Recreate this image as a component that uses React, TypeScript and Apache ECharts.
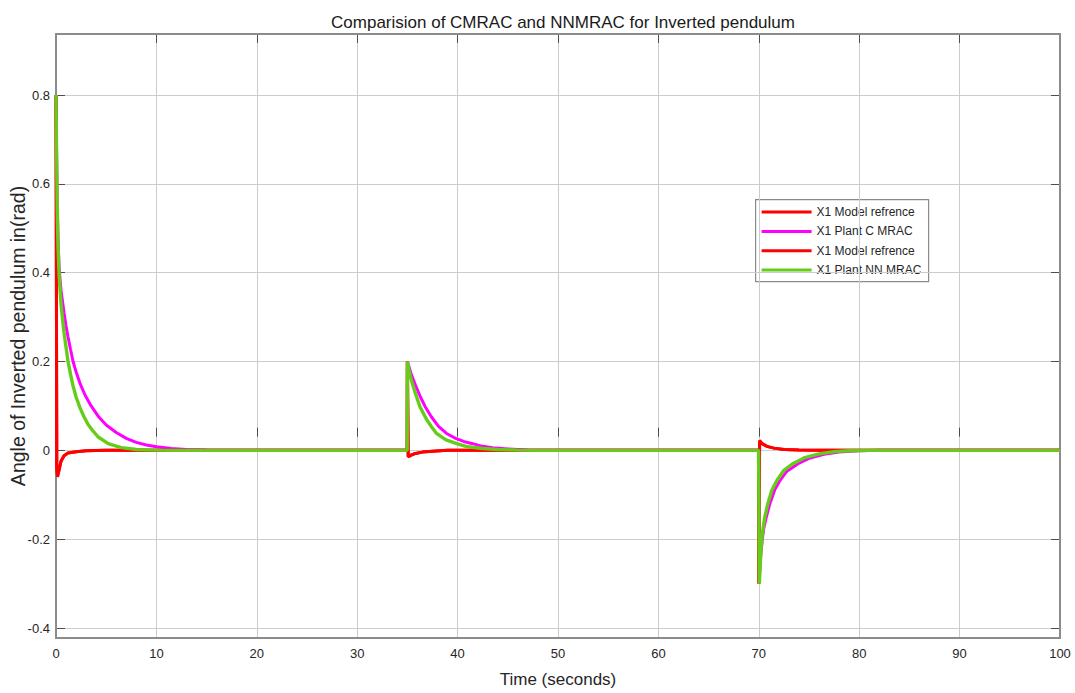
import React, { useEffect, useRef } from "react";
import * as echarts from "echarts";

// ---- Data (time in seconds, angle in rad) ----
const modelRefC: [number, number][] = [
  [0, 0.8], [0.08, -0.04], [0.15, -0.06], [0.3, -0.045], [0.5, -0.025], [0.8, -0.012],
  [1.2, -0.006], [2, -0.003], [3, -0.001], [5, 0], [34.98, 0], [35, 0.2], [35.08, -0.015],
  [35.3, -0.012], [35.8, -0.007], [36.5, -0.004], [37.5, -0.002], [39, 0], [69.98, 0],
  [70, -0.3], [70.08, 0.022], [70.3, 0.016], [70.8, 0.009], [71.5, 0.005], [72.5, 0.002],
  [74, 0.001], [76, 0], [100, 0],
];

const plantCMRAC: [number, number][] = [
  [0, 0.8], [0.05, 0.68], [0.12, 0.56], [0.2, 0.48], [0.3, 0.415], [0.4, 0.385], [0.5, 0.36],
  [0.65, 0.335], [0.8, 0.31], [1.0, 0.28], [1.2, 0.255], [1.45, 0.227], [1.7, 0.2], [2.0, 0.177],
  [2.4, 0.15], [2.9, 0.124], [3.5, 0.1], [4.2, 0.077], [5, 0.057], [6, 0.04], [7, 0.027],
  [8, 0.018], [9, 0.012], [10, 0.008], [11.5, 0.004], [13, 0.002], [15, 0.0008], [18, 0],
  [34.98, 0], [35, 0.2], [35.2, 0.185], [35.4, 0.17], [35.8, 0.147], [36.3, 0.12], [36.8, 0.097],
  [37.4, 0.075], [38.1, 0.054], [38.9, 0.038], [39.8, 0.027], [40.6, 0.02], [41.5, 0.015],
  [42.5, 0.009], [43.5, 0.006], [45, 0.003], [47, 0.001], [50, 0], [69.98, 0], [70.05, -0.285],
  [70.2, -0.235], [70.35, -0.2], [70.5, -0.175], [70.7, -0.155], [71.1, -0.12], [71.6, -0.088],
  [72.1, -0.068], [72.8, -0.047], [73.9, -0.03], [75, -0.018], [76.5, -0.009], [78, -0.004],
  [80, -0.001], [82, 0], [100, 0],
];

const modelRefNN: [number, number][] = [
  [0, 0.8], [0.08, -0.04], [0.15, -0.058], [0.3, -0.044], [0.5, -0.024], [0.8, -0.012],
  [1.2, -0.006], [2, -0.003], [3, -0.001], [5, 0], [34.98, 0], [35, 0.2], [35.08, -0.014],
  [35.3, -0.011], [35.8, -0.007], [36.5, -0.004], [37.5, -0.002], [39, 0], [69.98, 0],
  [70, -0.3], [70.08, 0.021], [70.3, 0.015], [70.8, 0.009], [71.5, 0.005], [72.5, 0.002],
  [74, 0.001], [76, 0], [100, 0],
];

const plantNNMRAC: [number, number][] = [
  [0, 0.8], [0.05, 0.68], [0.12, 0.55], [0.2, 0.46], [0.3, 0.4], [0.4, 0.362], [0.5, 0.33],
  [0.65, 0.295], [0.8, 0.265], [1.0, 0.232], [1.2, 0.2], [1.45, 0.171], [1.7, 0.145],
  [2.0, 0.12], [2.4, 0.095], [2.8, 0.075], [3.2, 0.058], [3.7, 0.043], [4.2, 0.03],
  [5.2, 0.015], [6.5, 0.006], [8, 0.002], [10, 0.0005], [12, 0], [34.98, 0], [35, 0.2],
  [35.15, 0.182], [35.3, 0.165], [35.7, 0.135], [36.25, 0.098], [36.9, 0.07], [37.4, 0.053],
  [37.9, 0.038], [38.8, 0.024], [39.9, 0.015], [41, 0.008], [42.5, 0.004], [44, 0.002],
  [46, 0.0005], [48, 0], [69.98, 0], [70.05, -0.3], [70.18, -0.24], [70.3, -0.2], [70.45, -0.172],
  [70.6, -0.15], [70.9, -0.12], [71.3, -0.09], [71.8, -0.068], [72.5, -0.045], [73.4, -0.03],
  [74.5, -0.017], [76, -0.008], [77.5, -0.003], [79, -0.001], [81, 0], [100, 0],
];

const seriesNames = ["X1 Model refrence", "X1 Plant C MRAC", "X1 Model refrence", "X1 Plant NN MRAC"];
const seriesColors = ["#ff0000", "#ff00ff", "#ff0000", "#66cc1a"];
const seriesWidths = [3, 3, 3, 3.4];
const seriesData = [modelRefC, plantCMRAC, modelRefNN, plantNNMRAC];

const xTicks = { min: 0, max: 100, interval: 10 };
const yTicks = { min: -0.4, max: 0.8, interval: 0.2 };

const FONT = "'Liberation Sans', Arial, sans-serif";
const TXT = "#262626";

export default function App() {
  const ref = useRef<HTMLDivElement>(null);

  useEffect(() => {
    if (!ref.current) return;
    const chart = echarts.init(ref.current, undefined, { renderer: "svg" });

    const legendX = 755;
    const legendY = 199;
    const rowH = 19.3;
    const legendChildren: any[] = [
      {
        type: "rect",
        shape: { x: 0, y: 0, width: 173, height: 82 },
        style: { fill: "#ffffff", stroke: "#8a8a8a", lineWidth: 1.2 },
      },
    ];
    seriesNames.forEach((n, i) => {
      const cy = 12.5 + i * rowH;
      legendChildren.push({
        type: "line",
        shape: { x1: 6, y1: cy, x2: 56, y2: cy },
        style: { stroke: seriesColors[i], lineWidth: 3 },
      });
      legendChildren.push({
        type: "text",
        x: 61,
        y: cy,
        style: {
          text: n,
          fill: TXT,
          font: `12px ${FONT}`,
          verticalAlign: "middle",
          align: "left",
        },
      });
    });

    const tickStyle = { show: true, inside: true, length: 9, lineStyle: { color: "#4d4d4d", width: 1 } };

    const option: any = {
      animation: false,
      backgroundColor: "#ffffff",
      textStyle: { fontFamily: FONT },
      title: {
        text: "Comparision of CMRAC and NNMRAC for Inverted pendulum",
        left: 558,
        textAlign: "center",
        top: 9,
        textStyle: { fontSize: 17, fontWeight: "normal", color: "#1a1a1a", fontFamily: FONT },
      },
      grid: [
        {
          left: 56, right: 15, top: 34, bottom: 49,
          show: true, borderColor: "#8c8c8c", borderWidth: 2, backgroundColor: "transparent",
          z: 5,
        },
        { left: 56, right: 15, top: 95, bottom: 65 },
      ],
      xAxis: [
        {
          gridIndex: 0, type: "value", ...xTicks, position: "bottom",
          name: "Time (seconds)", nameLocation: "middle", nameGap: 33,
          nameTextStyle: { fontSize: 17, color: TXT, fontFamily: FONT },
          axisLine: { show: false },
          axisTick: tickStyle,
          axisLabel: { fontSize: 13, color: TXT, margin: 9, fontFamily: FONT },
          splitLine: { show: true, lineStyle: { color: "#cccccc", width: 1 } },
        },
        {
          gridIndex: 0, type: "value", ...xTicks, position: "top",
          axisLine: { show: false },
          axisTick: tickStyle,
          axisLabel: { show: false },
          splitLine: { show: false },
        },
        { gridIndex: 1, type: "value", ...xTicks, show: false },
      ],
      yAxis: [
        {
          gridIndex: 0, type: "value", ...yTicks,
          name: "Angle of Inverted pendulum in(rad)", nameLocation: "middle", nameGap: 28,
          nameTextStyle: { fontSize: 19.5, color: TXT, fontFamily: FONT },
          axisLine: { show: false }, axisTick: { show: false }, axisLabel: { show: false },
          splitLine: { show: false },
        },
        {
          gridIndex: 1, type: "value", ...yTicks, position: "left",
          axisLine: { show: false },
          axisTick: tickStyle,
          axisLabel: { fontSize: 13, color: TXT, margin: 6, fontFamily: FONT },
          splitLine: { show: true, lineStyle: { color: "#cccccc", width: 1 } },
        },
        {
          gridIndex: 1, type: "value", ...yTicks, position: "right",
          axisLine: { show: false },
          axisTick: tickStyle,
          axisLabel: { show: false },
          splitLine: { show: false },
        },
      ],
      series: seriesData.map((d, i) => ({
        name: seriesNames[i],
        type: "line",
        xAxisIndex: 2,
        yAxisIndex: 1,
        data: d,
        showSymbol: false,
        clip: false,
        z: 10 + i,
        lineStyle: { color: seriesColors[i], width: seriesWidths[i] },
        itemStyle: { color: seriesColors[i] },
      })),
      graphic: [
        { type: "group", left: legendX, top: legendY, z: 100, children: legendChildren },
      ],
    };

    chart.setOption(option);
    return () => chart.dispose();
  }, []);

  return (
    <div
      ref={ref}
      style={{ position: "absolute", left: 0, top: 0, width: 1075, height: 693, background: "#fff" }}
    />
  );
}
